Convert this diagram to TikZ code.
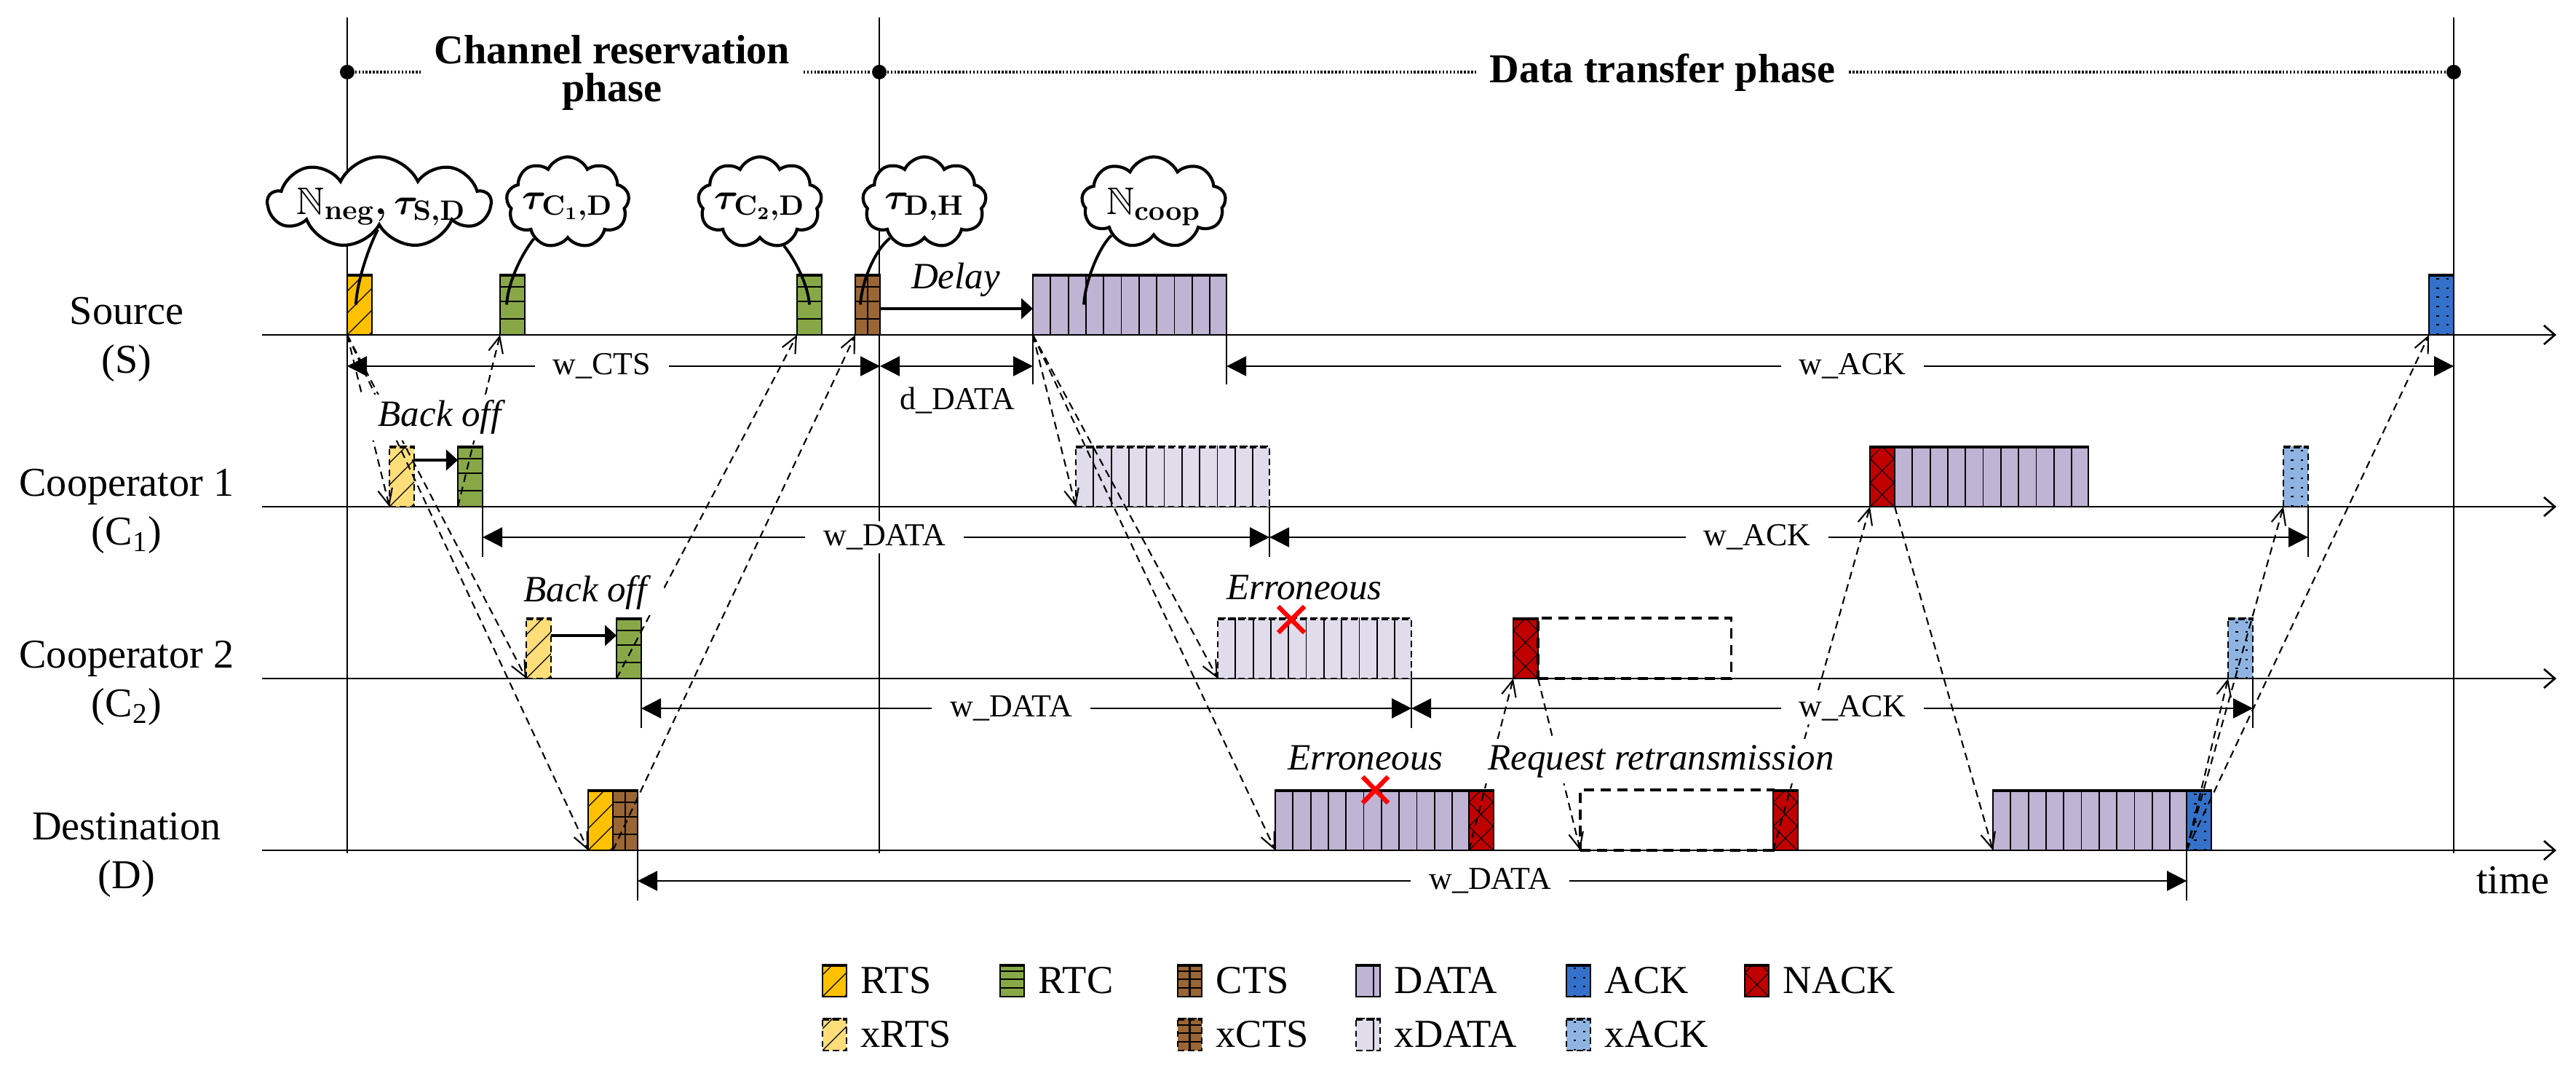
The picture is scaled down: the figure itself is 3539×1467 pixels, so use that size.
\documentclass[tikz,border=0pt]{standalone}
\usepackage{fontspec}
\setmainfont{Liberation Serif}
\usepackage{amssymb}
\usetikzlibrary{arrows.meta,shapes.symbols,calc}
\definecolor{cRTS}{RGB}{255,192,0}
\definecolor{cxRTS}{RGB}{255,222,122}
\definecolor{cRTC}{RGB}{136,168,72}
\definecolor{cCTS}{RGB}{154,102,52}
\definecolor{cDATA}{RGB}{191,180,212}
\definecolor{cxDATA}{RGB}{224,220,235}
\definecolor{cACK}{RGB}{52,113,202}
\definecolor{cxACK}{RGB}{143,180,226}
\definecolor{cNACK}{RGB}{192,0,0}
\newcommand{\ppTop}[1]{\draw[#1,line width=1.5pt] (path picture bounding box.north west) -- (path picture bounding box.north east);}
\newcommand{\ppRTS}{\foreach \k in {-3,...,3}{\draw[solid,line width=0.35pt] ([yshift=\k*0.3cm]path picture bounding box.south west) -- ++(0.7cm,0.7cm);}}
\newcommand{\ppRTC}{\foreach \f in {0.2,0.45,0.73}{\draw[solid,line width=0.6pt] ($(path picture bounding box.north west)!\f!(path picture bounding box.south west)$) -- ++(1cm,0);}}
\newcommand{\ppCTS}{\ppRTC\draw[solid,line width=0.6pt] (path picture bounding box.north) -- (path picture bounding box.south);}
\newcommand{\ppDATA}{\foreach \k in {1,...,10}{\draw[solid,line width=0.5pt] ([xshift=\k*0.243cm]path picture bounding box.south west) -- ++(0,1cm);}}
\newcommand{\ppNACK}{\foreach \k in {-3,...,4}{\draw[solid,line width=0.3pt] ([yshift=\k*0.33cm]path picture bounding box.south west) -- ++(0.7cm,0.7cm);\draw[solid,line width=0.3pt] ([yshift=\k*0.33cm]path picture bounding box.south west) -- ++(0.7cm,-0.7cm);}}
\newcommand{\ppACK}{\foreach \f in {0.35,0.75}{\draw[line width=0.9pt,dash pattern=on 0.6pt off 3pt] ($(path picture bounding box.south west)!\f!(path picture bounding box.south east)$) -- ++(0,1cm);}}
\tikzset{
 pkt/.style={draw=black, line width=0.6pt, minimum height=0.83cm, minimum width=0.34cm, inner sep=0pt, outer sep=0pt, anchor=south west},
 legsz/.style={minimum height=0.44cm, minimum width=0.33cm},
 xb/.style={dash pattern=on 2.5pt off 1.5pt},
 pRTS/.style={pkt, fill=cRTS, path picture={\ppRTS\ppTop{solid}}},
 pxRTS/.style={pkt, xb, fill=cxRTS, path picture={\ppRTS\ppTop{xb}}},
 pRTC/.style={pkt, fill=cRTC, path picture={\ppRTC\ppTop{solid}}},
 pCTS/.style={pkt, fill=cCTS, path picture={\ppCTS\ppTop{solid}}},
 pxCTS/.style={pkt, xb, fill=cCTS, path picture={\ppCTS\ppTop{xb}}},
 pDATA/.style={pkt, minimum width=2.66cm, fill=cDATA, path picture={\ppDATA\ppTop{solid}}},
 pxDATA/.style={pkt, xb, minimum width=2.66cm, fill=cxDATA, path picture={\ppDATA\ppTop{xb}}},
 pACK/.style={pkt, fill=cACK, path picture={\ppACK\ppTop{solid}}},
 pxACK/.style={pkt, xb, fill=cxACK, path picture={\ppACK\ppTop{xb}}},
 pNACK/.style={pkt, fill=cNACK, path picture={\ppNACK\ppTop{solid}}},
 emptybox/.style={draw=black, line width=0.9pt, dash pattern=on 4pt off 2.5pt, minimum height=0.83cm, minimum width=2.65cm, inner sep=0pt, outer sep=0pt, anchor=south west},
 lanelab/.style={font=\fontsize{16}{19}\selectfont, align=center, inner sep=0pt},
 phaselab/.style={font=\fontsize{16}{15}\selectfont\bfseries, align=center, fill=white, inner xsep=0.18cm, inner ysep=0pt},
 dimlab/.style={font=\fontsize{12.5}{14}\selectfont, fill=white, inner xsep=0.25cm, inner ysep=0.05cm},
 notelab/.style={font=\fontsize{14.5}{17}\selectfont\itshape, inner sep=0pt},
 notebg/.style={notelab, fill=white, inner xsep=0.24cm, inner ysep=0.08cm},
 leglab/.style={font=\fontsize{15.5}{18}\selectfont, anchor=west, inner sep=0pt},
 axisline/.style={line width=0.77pt, -{Straight Barb[length=0.15cm,width=0.26cm]}},
 phline/.style={line width=0.6pt},
 phdots/.style={line width=0.9pt, dash pattern=on 0.7pt off 0.7pt},
 phdot/.style={circle, fill=black, minimum size=0.2cm, inner sep=0pt},
 msg/.style={line width=0.6pt, dash pattern=on 3pt off 2pt, -{Straight Barb[length=0.22cm,width=0.2cm]}},
 dimline/.style={line width=0.7pt, {Triangle[length=0.27cm,width=0.27cm]}-{Triangle[length=0.27cm,width=0.27cm]}},
 tickline/.style={line width=0.6pt},
 thickarr/.style={line width=1.4pt, -{Triangle[length=0.16cm,width=0.28cm]}},
 cloudn/.style={cloud, cloud puffs=9, cloud puff arc=130, cloud ignores aspect, draw, line width=1.2pt, fill=white, inner sep=0pt},
 cloudtxt/.style={font=\fontsize{15}{18}\selectfont\boldmath, inner sep=0pt},
 tailline/.style={line width=1.1pt},
 redx/.style={red, line width=1.8pt}
}
\begin{document}
\begin{tikzpicture}[x=0.01cm,y=-0.01cm]
\useasboundingbox (0,0) rectangle (3539,1467);
% phase vertical lines
\coordinate (v1t) at (477,24); \coordinate (v1b) at (477,1172);
\coordinate (v2t) at (1208,24); \coordinate (v2b) at (1208,1172);
\coordinate (v3t) at (3371,24); \coordinate (v3b) at (3371,1172);
\draw[phline] (v1t) -- (v1b);
\draw[phline] (v2t) -- (v2b);
\draw[phline] (v3t) -- (v3b);
% axes
\coordinate (aS0) at (360,460); \coordinate (aS1) at (3512,460);
\coordinate (aC10) at (360,696); \coordinate (aC11) at (3512,696);
\coordinate (aC20) at (360,932); \coordinate (aC21) at (3512,932);
\coordinate (aD0) at (360,1168); \coordinate (aD1) at (3512,1168);
\draw[axisline] (aS0) -- (aS1);
\draw[axisline] (aC10) -- (aC11);
\draw[axisline] (aC20) -- (aC21);
\draw[axisline] (aD0) -- (aD1);
% phase header
\node[phdot] (p1) at (477,99) {};
\node[phdot] (p2) at (1208,99) {};
\node[phdot] (p3) at (3371,99) {};
\node[phaselab] (chl) at (841,100) {Channel reservation\\phase};
\node[phaselab] (dtl) at (2284,100) {Data transfer phase};
\draw[phdots] (p1) -- (p1 -| chl.west);
\draw[phdots] (chl.east |- p2) -- (p2);
\draw[phdots] (p2) -- (p2 -| dtl.west);
\draw[phdots] (dtl.east |- p3) -- (p3);
% lane labels
\node[lanelab] (lS) at (174,466) {Source\\(S)};
\node[lanelab] (lC1) at (174,702) {Cooperator 1\\(C\textsubscript{1})};
\node[lanelab] (lC2) at (174,938) {Cooperator 2\\(C\textsubscript{2})};
\node[lanelab] (lD) at (174,1174) {Destination\\(D)};
% packets: source
\node[pRTS] (sRTS) at (477,460) {};
\node[pRTC] (sRTC1) at (687,460) {};
\node[pRTC] (sRTC2) at (1095,460) {};
\node[pCTS] (sCTS) at (1175,460) {};
\node[pDATA] (sDATA) at (1419,460) {};
\node[pACK] (sACK) at (3337,460) {};
% C1
\node[pxRTS] (c1xRTS) at (535,696) {};
\node[pRTC] (c1RTC) at (629,696) {};
\node[pxDATA] (c1xDATA) at (1478,696) {};
\node[pNACK] (c1NACK) at (2569,696) {};
\node[pDATA] (c1DATA) at (2603,696) {};
\node[pxACK] (c1xACK) at (3137,696) {};
% C2
\node[pxRTS] (c2xRTS) at (723,932) {};
\node[pRTC] (c2RTC) at (847,932) {};
\node[pxDATA] (c2xDATA) at (1673,932) {};
\node[pNACK] (c2NACK) at (2079,932) {};
\node[emptybox] (c2E) at (2113,932) {};
\node[pxACK] (c2xACK) at (3061,932) {};
% D
\node[pRTS] (dRTS) at (808,1168) {};
\node[pCTS] (dCTS) at (842,1168) {};
\node[pDATA] (dDATA) at (1752,1168) {};
\node[pNACK] (dNACK1) at (2018,1168) {};
\node[emptybox] (dE) at (2171,1168) {};
\node[pNACK] (dNACK2) at (2436,1168) {};
\node[pDATA] (dDATA2) at (2738,1168) {};
\node[pACK] (dACK) at (3004,1168) {};
% ticks
\draw[tickline] (sDATA.south west) -- ++(0,68);
\draw[tickline] (sDATA.south east) -- ++(0,68);
\draw[tickline] (c1RTC.south east) -- ++(0,69);
\draw[tickline] (c1xDATA.south east) -- ++(0,69);
\draw[tickline] (c1xACK.south east) -- ++(0,69);
\draw[tickline] (c2RTC.south east) -- ++(0,68);
\draw[tickline] (c2xDATA.south east) -- ++(0,68);
\draw[tickline] (c2xACK.south east) -- ++(0,68);
\draw[tickline] (dCTS.south east) -- ++(0,69);
\draw[tickline] (dDATA2.south east) -- ++(0,69);
% dimension lines
\draw[dimline] ($(sRTS.south west)+(0,43)$) -- ($(sCTS.south east)+(0,43)$);
\draw[dimline] ($(sCTS.south east)+(0,43)$) -- ($(sDATA.south west)+(0,43)$);
\draw[dimline] ($(sDATA.south east)+(0,43)$) -- ($(sACK.south east)+(0,43)$);
\draw[dimline] ($(c1RTC.south east)+(0,42)$) -- ($(c1xDATA.south east)+(0,42)$);
\draw[dimline] ($(c1xDATA.south east)+(0,42)$) -- ($(c1xACK.south east)+(0,42)$);
\draw[dimline] ($(c2RTC.south east)+(0,41)$) -- ($(c2xDATA.south east)+(0,41)$);
\draw[dimline] ($(c2xDATA.south east)+(0,41)$) -- ($(c2xACK.south east)+(0,41)$);
\draw[dimline] ($(dCTS.south east)+(0,42)$) -- ($(dDATA2.south east)+(0,42)$);
% back off / delay arrows
\draw[thickarr] ([yshift=-0.055cm]sCTS.east) -- ([yshift=-0.055cm]sCTS.east -| sDATA.west);
\draw[thickarr] ([yshift=-0.19cm]c1xRTS.north east) -- ([yshift=-0.19cm]c1RTC.north west);
\draw[thickarr] ([yshift=-0.24cm]c2xRTS.north east) -- ([yshift=-0.24cm]c2RTC.north west);
% messages
\draw[msg] (sRTS.south west) -- (c1xRTS.south west);
\draw[msg] (sRTS.south west) -- (c2xRTS.south west);
\draw[msg] (sRTS.south west) -- (dRTS.south west);
\draw[msg] (c1RTC.south west) -- (sRTC1.south west);
\draw[msg] (c2RTC.south west) -- (sRTC2.south west);
\draw[msg] (dCTS.south west) -- (sCTS.south west);
\draw[msg] (sDATA.south west) -- (c1xDATA.south west);
\draw[msg] (sDATA.south west) -- (c2xDATA.south west);
\draw[msg] (sDATA.south west) -- (dDATA.south west);
\draw[msg] (dNACK1.south west) -- (c2NACK.south west);
\draw[msg] (c2NACK.south east) -- (dE.south west);
\draw[msg] (dNACK2.south west) -- (c1NACK.south west);
\draw[msg] (c1NACK.south east) -- (dDATA2.south west);
\draw[msg] (dACK.south west) -- (c2xACK.south west);
\draw[msg] (dACK.south west) -- (c1xACK.south west);
\draw[msg] (dACK.south west) -- (sACK.south west);
% clouds
\node[cloudn, minimum width=3.05cm, minimum height=1.25cm] (cl1) at (521,278) {};
\node[cloudn, minimum width=1.69cm, minimum height=1.25cm] (cl2) at (780,278) {};
\node[cloudn, minimum width=1.70cm, minimum height=1.25cm] (cl3) at (1044,278) {};
\node[cloudn, minimum width=1.70cm, minimum height=1.25cm] (cl4) at (1270,278) {};
\node[cloudn, minimum width=1.98cm, minimum height=1.25cm] (cl5) at (1585,278) {};
\node[cloudtxt] (ct1) at (524,284) {$\mathbb{N}_{\mathbf{neg}},\tau_{\mathbf{S,D}}$};
\node[cloudtxt] (ct2) at (780,284) {$\tau_{\mathbf{C}_1,\mathbf{D}}$};
\node[cloudtxt] (ct3) at (1044,284) {$\tau_{\mathbf{C}_2,\mathbf{D}}$};
\node[cloudtxt] (ct4) at (1270,284) {$\tau_{\mathbf{D,H}}$};
\node[cloudtxt] (ct5) at (1585,284) {$\mathbb{N}_{\mathbf{coop}}$};
\draw[tailline] (cl1.267) .. controls +(-13,25) and +(1,-30) .. ($(sRTS.center)+(-5,0)$);
\draw[tailline] (cl2.227) .. controls +(-16,20) and +(2,-32) .. ($(sRTC1.center)+(-8,0)$);
\draw[tailline] (cl3.299) .. controls +(16,20) and +(-2,-27) .. (sRTC2.center);
\draw[tailline] (cl4.226) .. controls +(-21,17) and +(2,-32) .. ($(sCTS.center)+(-10,0)$);
\draw[tailline] (cl5.218) .. controls +(-17,16) and +(2,-33) .. ($(sDATA.west)+(70,0)$);
% notes
\node[notebg, anchor=base] (bo1) at (604,586) {Back off};
\node[notebg, anchor=base] (bo2) at (804,826) {Back off};
\node[notelab, anchor=base] (del) at (1313,397) {Delay};
\node[notelab, anchor=base] (er1) at (1792,823) {Erroneous};
\node[notelab, anchor=base] (er2) at (1876,1057) {Erroneous};
\node[notebg, anchor=base] (rr) at (2282,1057) {Request retransmission};
\node[lanelab, anchor=base] (tm) at (3452,1227) {time};
% dimension labels
\node[dimlab] (lwcts) at (827,503) {w\_CTS};
\node[dimlab, fill=none] (lddata) at (1315,550) {d\_DATA};
\node[dimlab] (lwackS) at (2545,503) {w\_ACK};
\node[dimlab] (lwdata1) at (1215,738) {w\_DATA};
\node[dimlab] (lwack1) at (2414,738) {w\_ACK};
\node[dimlab] (lwdata2) at (1389,973) {w\_DATA};
\node[dimlab] (lwack2) at (2545,973) {w\_ACK};
\node[dimlab] (lwdataD) at (2047,1210) {w\_DATA};
% red crosses
\draw[redx] (1756,833) -- (1792,869);
\draw[redx] (1792,833) -- (1756,869);
\draw[redx] (1872,1067) -- (1907,1103);
\draw[redx] (1907,1067) -- (1872,1103);
% legend
\node[pRTS, legsz] (gRTS) at (1130,1369) {};
\node[leglab] (tRTS) at ($(gRTS.east)+(19,0)$) {RTS};
\node[pRTC, legsz] (gRTC) at (1374,1369) {};
\node[leglab] (tRTC) at ($(gRTC.east)+(19,0)$) {RTC};
\node[pCTS, legsz] (gCTS) at (1618,1369) {};
\node[leglab] (tCTS) at ($(gCTS.east)+(19,0)$) {CTS};
\node[pDATA, legsz] (gDATA) at (1863,1369) {};
\node[leglab] (tDATA) at ($(gDATA.east)+(19,0)$) {DATA};
\node[pACK, legsz] (gACK) at (2152,1369) {};
\node[leglab] (tACK) at ($(gACK.east)+(19,0)$) {ACK};
\node[pNACK, legsz] (gNACK) at (2397,1369) {};
\node[leglab] (tNACK) at ($(gNACK.east)+(19,0)$) {NACK};
\node[pxRTS, legsz] (gxRTS) at (1130,1443) {};
\node[leglab] (txRTS) at ($(gxRTS.east)+(19,0)$) {xRTS};
\node[pxCTS, legsz] (gxCTS) at (1618,1443) {};
\node[leglab] (txCTS) at ($(gxCTS.east)+(19,0)$) {xCTS};
\node[pxDATA, legsz] (gxDATA) at (1863,1443) {};
\node[leglab] (txDATA) at ($(gxDATA.east)+(19,0)$) {xDATA};
\node[pxACK, legsz] (gxACK) at (2152,1443) {};
\node[leglab] (txACK) at ($(gxACK.east)+(19,0)$) {xACK};
\end{tikzpicture}
\end{document}
